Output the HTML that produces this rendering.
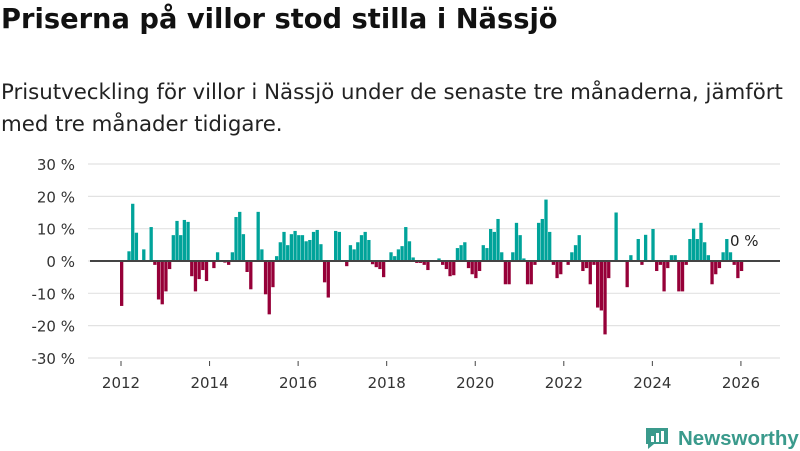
<!DOCTYPE html>
<html><head><meta charset="utf-8"><style>
body{margin:0;width:800px;height:450px;background:#fff;font-family:"DejaVu Sans","Liberation Sans",sans-serif;overflow:hidden;position:relative}
h1{position:absolute;left:1px;top:4px;margin:0;font-size:27.3px;font-weight:bold;color:#111;white-space:nowrap}
.sub{position:absolute;left:1px;top:77px;margin:0;font-size:21.3px;line-height:32px;color:#222;white-space:nowrap}
svg{position:absolute;left:0;top:0}
.logo{position:absolute;left:644px;top:419px;font-size:20.5px;font-weight:bold;color:#3a9a8c;white-space:nowrap;font-family:"Liberation Sans",sans-serif}
</style></head><body>
<h1>Priserna på villor stod stilla i Nässjö</h1>
<p class="sub">Prisutveckling för villor i Nässjö under de senaste tre månaderna, jämfört<br>med tre månader tidigare.</p>
<svg id="chart" width="800" height="450"></svg>
<div class="logo"><svg width="26" height="26" style="position:relative;top:5px;left:0;margin-right:8px" viewBox="0 0 26 26"><path d="M2 4h22v16H10l-6 5v-5H2z" fill="#3a9a8c"/><rect x="7" y="12" width="3" height="6" fill="#fff"/><rect x="12" y="9" width="3" height="9" fill="#fff"/><rect x="17" y="7" width="3" height="11" fill="#fff"/></svg>Newsworthy</div>
<script>
const startYear = 2012;
const values = [-13.9,0,3.0,17.7,8.75,0,3.6,0,10.5,-1.2,-11.9,-13.4,-9.4,-2.5,8,12.4,8,12.7,12.1,-4.7,-9.4,-5.6,-2.8,-6.2,0,-2.2,2.7,0,-0.5,-1.2,2.7,13.6,15.2,8.3,-3.4,-8.75,0,15.2,3.6,-10.3,-16.5,-8.1,1.5,5.8,9.0,4.9,8.3,9.3,8,8,6.1,6.5,9,9.6,5.2,-6.6,-11.3,0,9.3,9.0,0,-1.6,4.9,3.6,5.8,8,9,6.5,-1,-1.9,-2.5,-5,0,2.7,1.5,3.6,4.6,10.5,6.1,1.1,-0.6,-0.6,-1.2,-2.8,0,0,0.8,-1.2,-2.5,-4.7,-4.4,4,4.9,5.8,-2.2,-4.1,-5.3,-3.1,4.9,4,9.9,9,13,2.7,-7.2,-7.2,2.7,11.8,8,0.8,-7.2,-7.2,-1.2,11.8,13,19,9,-1.2,-5.3,-4.1,0,-1.2,2.7,4.9,8,-3.1,-2.2,-7.2,-1.2,-14.4,-15.3,-22.7,-5.3,0,15,0,0,-8.1,1.8,0,6.8,-1.2,8.1,0,9.9,-3.1,-1.2,-9.4,-2.2,1.8,1.8,-9.4,-9.4,-1.2,6.8,10,6.8,11.8,5.8,1.8,-7.2,-4.1,-2.2,2.7,6.8,2.7,-1.2,-5.3,-3.1];
const yTicks = [30,20,10,0,-10,-20,-30];
const xTicks = [2012,2014,2016,2018,2020,2022,2024,2026];
const latestLabel = "0 %";

const svg = document.getElementById('chart');
const NS = 'http://www.w3.org/2000/svg';
const FONT = 'DejaVu Sans, Liberation Sans, sans-serif';
const y = v => 261 - v * 3.233;
const xm = m => 121 + m * 3.69;
const xYear = yr => xm((yr - startYear) * 12);
function mk(t, a){const e=document.createElementNS(NS,t);for(const k in a)e.setAttribute(k,a[k]);svg.appendChild(e);return e;}
yTicks.forEach(t=>{
  const g=mk('line',{x1:88,x2:780,y1:y(t),y2:y(t),stroke:'#e2e2e2','stroke-width':1.2});
  
  
  const tx=mk('text',{x:75,y:y(t)+6,'text-anchor':'end','font-size':15,fill:'#333','font-family':FONT});
  tx.textContent=t+' %';
  
  
});
xTicks.forEach(t=>{
  const l=mk('line',{x1:xYear(t),x2:xYear(t),y1:361,y2:366,stroke:'#444','stroke-width':1});
  
  
  const tx=mk('text',{x:xYear(t),y:388,'text-anchor':'middle','font-size':15,fill:'#333','font-family':FONT});
  tx.textContent=t;
  
  
});
values.forEach((v,i)=>{
  if(v===0)return;
  const r=mk('rect',{x:xm(i)-1,width:3.3,y:Math.min(y(v),y(0)),height:Math.abs(y(v)-y(0)),fill:v>0?'#00a39a':'#960038'});
  
  
});
const z=mk('line',{x1:90,x2:780,y1:y(0),y2:y(0),stroke:'#444','stroke-width':2});


const lb=mk('text',{x:730,y:246,'font-size':15,fill:'#222','font-family':FONT});
lb.textContent=latestLabel;


</script>
</body></html>
